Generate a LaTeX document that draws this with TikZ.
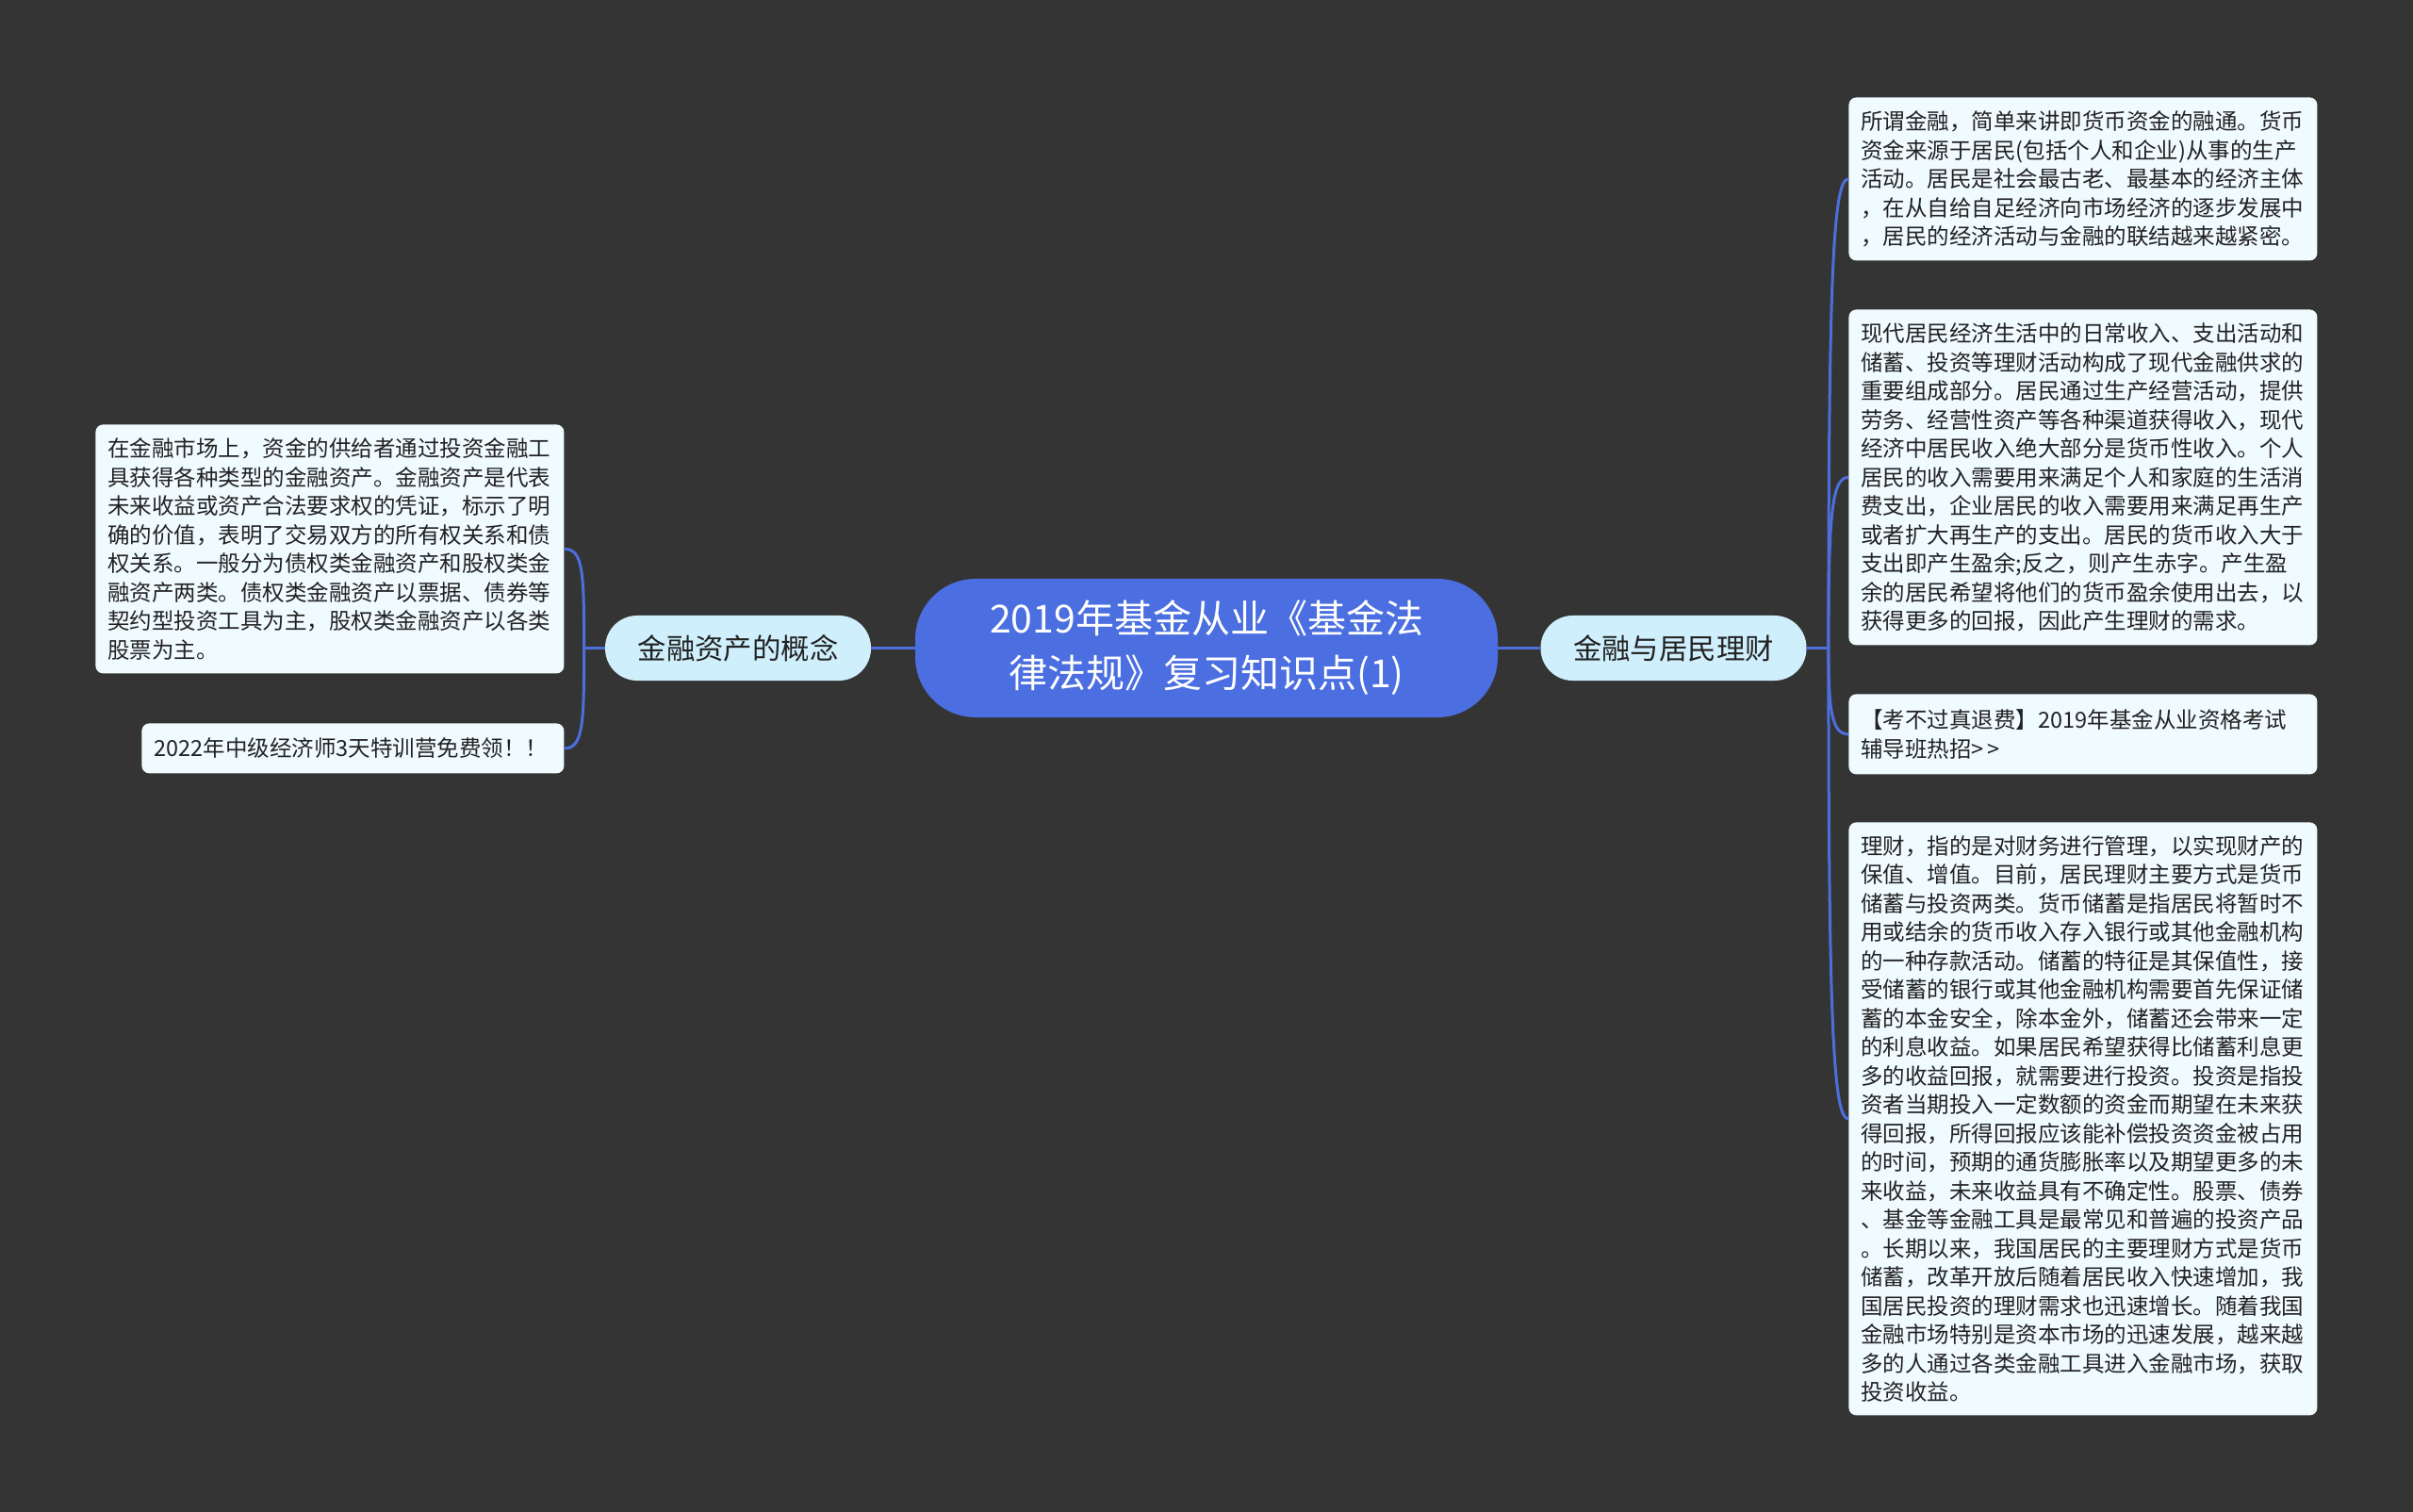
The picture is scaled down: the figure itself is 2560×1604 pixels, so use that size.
\documentclass[tikz,border=0pt]{standalone}
\usepackage{fontspec}
\setmainfont{Noto Sans CJK SC}
\definecolor{bg}{HTML}{343434}
\definecolor{mainblue}{HTML}{4B6EE0}
\definecolor{lineblue}{HTML}{4D6FDC}
\definecolor{subfill}{HTML}{CFEFFC}
\definecolor{leaffill}{HTML}{F0FBFF}
\definecolor{txt}{HTML}{222222}
\begin{document}
\begin{tikzpicture}[x=0.5pt,y=-0.5pt,
  centernode/.style={fill=mainblue,text=white,rounded corners=32pt,minimum width=309pt,minimum height=73.5pt,align=center,inner sep=0pt,font=\fontsize{20.5pt}{29pt}\selectfont},
  subnode/.style={fill=subfill,text=txt,rounded corners=17pt,minimum width=141pt,minimum height=34.5pt,inner sep=0pt,font=\fontsize{15.2pt}{18pt}\selectfont},
  leafnode/.style={fill=leaffill,text=txt,rounded corners=4pt,anchor=north west,inner xsep=6.5pt,inner ysep=0pt,text width=235.5pt,align=left,font=\fontsize{11.75pt}{15.25pt}\selectfont},
  conn/.style={draw=lineblue,line width=1.5pt}]
\useasboundingbox[fill=bg] (0,0) rectangle (2560,1604);

\node[centernode] (c) at (1280,687.5) {2019年基金从业《基金法\\律法规》复习知识点(1)};
\node[subnode] (ls) at (783,687.5) {金融资产的概念};
\node[subnode] (rs) at (1775.5,687.5) {金融与居民理财};

\node[leafnode,minimum height=132pt] (l1) at (101,450) {在金融市场上，资金的供给者通过投资金融工\\具获得各种类型的金融资产。金融资产是代表\\未来收益或资产合法要求权的凭证，标示了明\\确的价值，表明了交易双方的所有权关系和债\\权关系。一般分为债权类金融资产和股权类金\\融资产两类。债权类金融资产以票据、债券等\\契约型投资工具为主，股权类金融资产以各类\\股票为主。};
\node[leafnode,minimum height=26.5pt,text width=211pt,inner xsep=6.5pt] (l2) at (150,767) {2022年中级经济师3天特训营免费领！！};

\node[leafnode,minimum height=86.5pt] (r1) at (1961,103) {所谓金融，简单来讲即货币资金的融通。货币\\资金来源于居民(包括个人和企业)从事的生产\\活动。居民是社会最古老、最基本的经济主体\\，在从自给自足经济向市场经济的逐步发展中\\，居民的经济活动与金融的联结越来越紧密。};
\node[leafnode,minimum height=178pt] (r2) at (1961,328) {现代居民经济生活中的日常收入、支出活动和\\储蓄、投资等理财活动构成了现代金融供求的\\重要组成部分。居民通过生产经营活动，提供\\劳务、经营性资产等各种渠道获得收入，现代\\经济中居民收入绝大部分是货币性收入。个人\\居民的收入需要用来满足个人和家庭的生活消\\费支出，企业居民的收入需要用来满足再生产\\或者扩大再生产的支出。居民的货币收入大于\\支出即产生盈余;反之，则产生赤字。产生盈\\余的居民希望将他们的货币盈余使用出去，以\\获得更多的回报，因此产生理财的需求。};
\node[leafnode,minimum height=42.5pt] (r3) at (1961,736) {【考不过真退费】2019年基金从业资格考试\\辅导班热招>\hspace{2pt}>};
\node[leafnode,minimum height=314.5pt] (r4) at (1961,872) {理财，指的是对财务进行管理，以实现财产的\\保值、增值。目前，居民理财主要方式是货币\\储蓄与投资两类。货币储蓄是指居民将暂时不\\用或结余的货币收入存入银行或其他金融机构\\的一种存款活动。储蓄的特征是其保值性，接\\受储蓄的银行或其他金融机构需要首先保证储\\蓄的本金安全，除本金外，储蓄还会带来一定\\的利息收益。如果居民希望获得比储蓄利息更\\多的收益回报，就需要进行投资。投资是指投\\资者当期投入一定数额的资金而期望在未来获\\得回报，所得回报应该能补偿投资资金被占用\\的时间，预期的通货膨胀率以及期望更多的未\\来收益，未来收益具有不确定性。股票、债券\\、基金等金融工具是最常见和普遍的投资产品\\。长期以来，我国居民的主要理财方式是货币\\储蓄，改革开放后随着居民收入快速增加，我\\国居民投资的理财需求也迅速增长。随着我国\\金融市场特别是资本市场的迅速发展，越来越\\多的人通过各类金融工具进入金融市场，获取\\投资收益。};

% connectors
\draw[conn] (c.west) -- (ls.east);
\draw[conn] (c.east) -- (rs.west);
\draw[conn] (ls.west) -- ++(-22,0) coordinate (jl);
\draw[conn] (rs.east) -- ++(23,0) coordinate (jr);
\draw[conn] (jl) .. controls +(0,-80) and +(20,0) .. (l1.east);
\draw[conn] (jl) .. controls +(0,80) and +(20,0) .. (l2.east);
\draw[conn] (jr) .. controls +(0,-400) and +(-16,0) .. (r1.west);
\draw[conn] (jr) .. controls +(0,-140) and +(-18,0) .. (r2.west);
\draw[conn] (jr) .. controls +(0,65) and +(-18,0) .. (r3.west);
\draw[conn] (jr) .. controls +(0,400) and +(-16,0) .. (r4.west);
\end{tikzpicture}
\end{document}
